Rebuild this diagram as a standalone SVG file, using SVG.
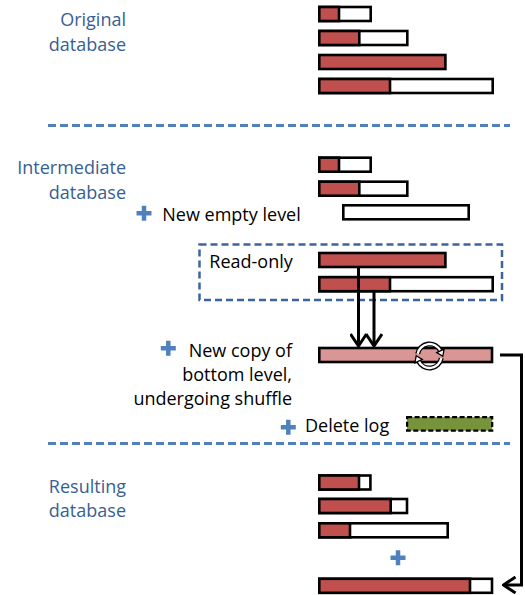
<svg xmlns="http://www.w3.org/2000/svg" xmlns:xlink="http://www.w3.org/1999/xlink" width="525" height="595" viewBox="0 0 525 595">
<style>
.lbl{font-family:"Open Sans","Liberation Sans",sans-serif;font-size:18px;fill:#376092}
.txt{font-family:"Open Sans","Liberation Sans",sans-serif;font-size:18px;fill:#000}
.bar{fill:#fff;stroke:#000;stroke-width:2.6}
.red{fill:#C0504D;stroke:#000;stroke-width:2.6}
.pink{fill:#D99694;stroke:#000;stroke-width:2.6}
.green{fill:#77933C;stroke:#000;stroke-width:2.2;stroke-dasharray:5 2.5}
.div{stroke:#4F81BD;stroke-width:3;stroke-dasharray:8 4;fill:none}
.plus{stroke:#4F81BD;stroke-width:4.5;fill:none}
.conn{stroke:#000;stroke-width:3;fill:none}
</style>
<defs>
<marker id="chev" viewBox="0 0 16 18" refX="14" refY="9" markerWidth="16" markerHeight="18" markerUnits="userSpaceOnUse" orient="auto">
<path d="M2,1 L14,9 L2,17" fill="none" stroke="#000" stroke-width="3"/>
</marker>
<path id="plus" class="plus" d="M-7.5,0 H7.5 M0,-7.5 V7.5"/>
</defs>

<g id="original-label">
<text class="lbl" x="126" y="26" text-anchor="end">Original</text>
<text class="lbl" x="126" y="51" text-anchor="end">database</text>
</g>
<g id="original-levels">
<rect class="bar" x="319.3" y="7" width="51.4" height="14"/>
<rect class="red" x="319.3" y="7" width="19.7" height="14"/>
<rect class="bar" x="319.3" y="31" width="88" height="14"/>
<rect class="red" x="319.3" y="31" width="40" height="14"/>
<rect class="red" x="319.3" y="55" width="126.1" height="14"/>
<rect class="bar" x="319.3" y="79" width="173.4" height="14"/>
<rect class="red" x="319.3" y="79" width="70.7" height="14"/>
</g>

<line id="divider-1" class="div" x1="48" y1="125.5" x2="510" y2="125.5"/>

<g id="intermediate-label">
<text class="lbl" x="126" y="174.3" text-anchor="end">Intermediate</text>
<text class="lbl" x="126" y="198.8" text-anchor="end">database</text>
</g>
<g id="intermediate-levels">
<rect class="bar" x="319.3" y="157.7" width="51.4" height="14"/>
<rect class="red" x="319.3" y="157.7" width="19.7" height="14"/>
<rect class="bar" x="319.3" y="181.7" width="88" height="14"/>
<rect class="red" x="319.3" y="181.7" width="40" height="14"/>
</g>
<g id="new-empty-level">
<use xlink:href="#plus" x="144" y="213.3"/>
<text class="txt" x="162.3" y="221">New empty level</text>
<rect class="bar" x="343.3" y="205.3" width="125.4" height="14"/>
</g>
<g id="read-only">
<rect x="199.5" y="244.5" width="302.5" height="55.5" fill="none" stroke="#3B64A0" stroke-width="2.5" stroke-dasharray="7 4"/>
<text class="txt" x="209.3" y="268">Read-only</text>
<rect class="red" x="319.3" y="253" width="126.1" height="14"/>
<rect class="bar" x="319.3" y="277.2" width="173.4" height="14"/>
<rect class="red" x="319.3" y="277.2" width="70.7" height="14"/>
</g>
<g id="new-copy">
<use xlink:href="#plus" x="168.3" y="348.3"/>
<text class="txt" x="292" y="357" text-anchor="end">New copy of</text>
<text class="txt" x="292" y="381" text-anchor="end">bottom level,</text>
<text class="txt" x="292" y="405" text-anchor="end">undergoing shuffle</text>
<rect class="pink" x="319.3" y="348" width="172.7" height="14"/>
<g id="shuffle-icon">
<path d="M417.7,353.9 A12 12 0 0 1 440.4,350.9" fill="none" stroke="#000" stroke-width="5"/>
<path d="M441.3,358.1 A12 12 0 0 1 418.6,361.1" fill="none" stroke="#000" stroke-width="5"/>
<path d="M417.7,353.9 A12 12 0 0 1 440.4,350.9" fill="none" stroke="#fff" stroke-width="2.4"/>
<path d="M441.3,358.1 A12 12 0 0 1 418.6,361.1" fill="none" stroke="#fff" stroke-width="2.4"/>
<polygon points="436.7,352.6 444.1,349.2 442.8,356.3" fill="#fff" stroke="#000" stroke-width="1.3"/>
<polygon points="422.3,359.4 414.9,362.8 416.2,355.7" fill="#fff" stroke="#000" stroke-width="1.3"/>
</g>
</g>
<g id="delete-log">
<use xlink:href="#plus" x="288.3" y="427.3"/>
<text class="txt" x="305" y="431.5">Delete log</text>
<rect class="green" x="407.1" y="417.1" width="85.1" height="13.5"/>
</g>

<line id="divider-2" class="div" x1="48" y1="443.5" x2="510" y2="443.5"/>

<g id="resulting-label">
<text class="lbl" x="126" y="493.3" text-anchor="end">Resulting</text>
<text class="lbl" x="126" y="516.7" text-anchor="end">database</text>
</g>
<g id="resulting-levels">
<rect class="bar" x="319.3" y="475.5" width="51.1" height="14"/>
<rect class="red" x="319.3" y="475.5" width="39.7" height="14"/>
<rect class="bar" x="319.3" y="499" width="87.7" height="14"/>
<rect class="red" x="319.3" y="499" width="71.4" height="14"/>
<rect class="bar" x="319.3" y="523.3" width="128.4" height="14"/>
<rect class="red" x="319.3" y="523.3" width="30.7" height="14"/>
<use xlink:href="#plus" x="398" y="557.7"/>
<rect class="bar" x="319.3" y="578.8" width="172.7" height="14"/>
<rect class="red" x="319.3" y="578.8" width="150.7" height="14"/>
</g>

<g id="connectors">
<line class="conn" x1="358.5" y1="268" x2="358.5" y2="346" marker-end="url(#chev)"/>
<line class="conn" x1="374" y1="292" x2="374" y2="346" marker-end="url(#chev)"/>
<path class="conn" d="M500,355 H521.5 V585 H503.5" marker-end="url(#chev)"/>
</g>
</svg>
